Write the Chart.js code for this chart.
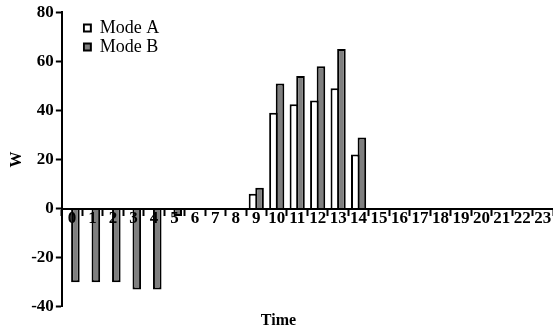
<!DOCTYPE html>
<html>
<head>
<meta charset="utf-8">
<script src="https://cdn.jsdelivr.net/npm/chart.js@4/dist/chart.umd.min.js"></script>
<style>
  html, body { margin: 0; padding: 0; background: #fff; }
  #wrap { width: 553px; height: 332px; }
</style>
</head>
<body>
<div id="wrap"><canvas id="powerChart"></canvas></div>
<script>
// hourly power, two operating modes
const hours = ["0","1","2","3","4","5","6","7","8","9","10","11","12","13","14","15","16","17","18","19","20","21","22","23"];
const modeA = [0, 0, 0, 0, 0, 0, 0, 0, 0, 6, 39, 42.5, 44, 49, 22, 0, 0, 0, 0, 0, 0, 0, 0, 0];
const modeB = [-30, -30, -30, -33, -33, -3, 0, 0, 0, 8.5, 51, 54, 58, 65, 29, 0, 0, 0, 0, 0, 0, 0, 0, 0];
const yTicks = [-40, -20, 0, 20, 40, 60, 80];

const serif = "'Liberation Serif', 'Times New Roman', serif";

// nudge the in-plot legend away from the axes
const legendOffset = {
  id: "legendOffset",
  afterLayout(chart) {
    if (!chart.legend) return;
    chart.legend.left += 21;
    chart.legend.top += 18;
  },
};

function renderChart() {
  const ctx = document.getElementById("powerChart");

  new Chart(ctx, {
    type: "bar",
    data: {
      labels: hours,
      datasets: [
        {
          label: "Mode A",
          data: modeA,
          backgroundColor: "#ffffff",
          borderColor: "#000000",
          borderWidth: 2,
          categoryPercentage: 0.645,
          barPercentage: 1.3,
        },
        {
          label: "Mode B",
          data: modeB,
          backgroundColor: "#7f7f7f",
          borderColor: "#000000",
          borderWidth: 2,
          categoryPercentage: 0.645,
          barPercentage: 1.3,
        },
      ],
    },
    plugins: [legendOffset],
    options: {
      responsive: true,
      maintainAspectRatio: false,
      animation: false,
      layout: { padding: { top: 8, right: 0, left: 4, bottom: 0 } },
      plugins: {
        legend: {
          position: "chartArea",
          align: "start",
          labels: {
            boxWidth: 7,
            boxHeight: 7,
            padding: 1,
            color: "#000",
            font: { family: serif, size: 18 },
          },
        },
        title: {
          display: true,
          position: "bottom",
          text: "Time",
          color: "#000",
          font: { family: serif, size: 16, weight: "bold" },
          padding: { top: 4, bottom: 2 },
        },
        tooltip: { enabled: false },
      },
      scales: {
        x: {
          position: { y: 0 },
          grid: {
            drawOnChartArea: false,
            offset: true,
            tickLength: 6,
            tickWidth: 2,
            color: "#000",
            z: 1,
          },
          border: { color: "#000", width: 2, z: 1 },
          ticks: {
            color: "#000",
            padding: -6,
            maxRotation: 0,
            autoSkip: false,
            z: 1,
            font: { family: serif, size: 17, weight: "bold" },
          },
        },
        y: {
          min: -40,
          max: 80,
          afterBuildTicks: (axis) => { axis.ticks = yTicks.map(v => ({ value: v })); },
          grid: {
            drawOnChartArea: false,
            tickLength: 6,
            tickWidth: 2,
            color: "#000",
          },
          border: { color: "#000", width: 2 },
          ticks: {
            color: "#000",
            padding: 2,
            font: { family: serif, size: 17, weight: "bold" },
          },
          title: {
            display: true,
            text: "W",
            color: "#000",
            padding: 3,
            font: { family: serif, size: 16, weight: "bold" },
          },
        },
      },
    },
  });
}

window.addEventListener("DOMContentLoaded", renderChart);
</script>
</body>
</html>
